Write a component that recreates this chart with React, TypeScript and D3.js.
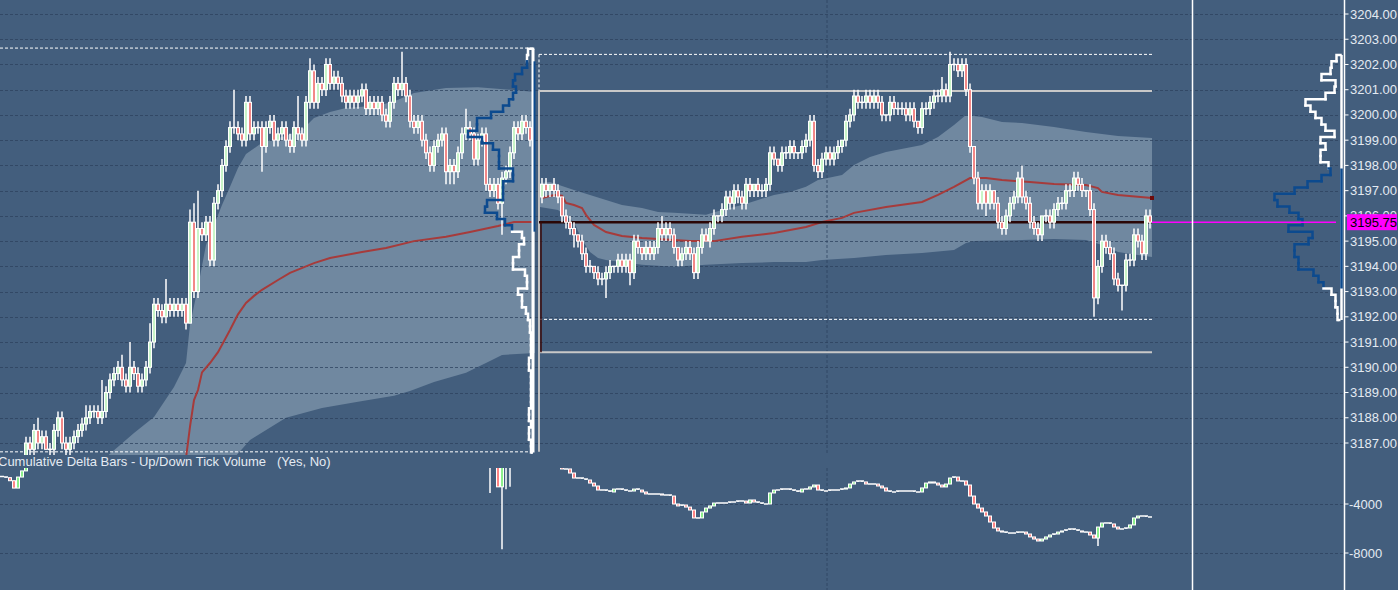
import React from "react";
import * as d3 from "d3";

// ---------------- DATA ----------------
const TICK = 0.25;
const RIGHT_OFFSET = 135; // bar index of first bar of the second session
const LAST_BAR = 287;

const priceTicks = [3187, 3188, 3189, 3190, 3191, 3192, 3193, 3194, 3195, 3196, 3197, 3198, 3199, 3200, 3201, 3202, 3203, 3204];
const deltaTicks = [-4000, -8000];

const leftOpen0 = 3186.25;
const leftCloses = [
  3186.0, 3186.25, 3186.0, 3185.75, 3186.0, 3186.25, 3187.0,
  3186.75, 3187.5, 3187.0, 3187.25, 3186.75, 3186.75, 3187.5,
  3188.0, 3187.0, 3186.75, 3187.0, 3187.25, 3187.5, 3187.75,
  3188.0, 3188.25, 3188.25, 3188.0, 3188.25, 3189.0, 3189.5,
  3189.75, 3190.0, 3189.5, 3189.25, 3190.0, 3189.75, 3189.25,
  3189.5, 3190.0, 3191.0, 3192.5, 3192.25, 3192.0, 3192.5,
  3192.25, 3192.5, 3192.25, 3192.5, 3191.75, 3195.75, 3193.0,
  3195.5, 3195.25, 3195.75, 3194.25, 3196.5, 3197.0, 3198.0,
  3198.75, 3199.5, 3199.5, 3199.25, 3199.0, 3200.5, 3199.25,
  3199.5, 3199.5, 3198.75, 3199.5, 3199.75, 3199.0, 3199.25,
  3199.5, 3199.0, 3198.75, 3199.5, 3199.25, 3199.0, 3200.5,
  3201.75, 3200.5, 3201.25, 3201.0, 3202.0, 3201.25, 3201.5,
  3201.25, 3200.75, 3200.5, 3200.75, 3200.5, 3200.75, 3201.0,
  3200.25, 3200.5, 3200.25, 3200.5, 3200.0, 3199.75, 3200.5,
  3201.25, 3201.0, 3201.25, 3200.75, 3199.75, 3199.5, 3199.75,
  3199.0, 3198.5, 3198.0, 3198.75, 3199.0, 3199.25, 3197.75,
  3198.0, 3197.75, 3198.5, 3199.25, 3199.5, 3199.25, 3198.25,
  3199.0, 3199.25, 3197.25, 3197.0, 3197.25, 3196.5, 3197.5,
  3197.75, 3198.5, 3199.5, 3199.25, 3199.75, 3199.5, 3199.0,
];
const leftWickUp = [
  0, 1, 0, 1, 0, 0, 1,
  1, 1, 2, 1, 1, 1, 1,
  1, 1, 1, 1, 1, 1, 1,
  2, 1, 1, 1, 5, 1, 1,
  1, 1, 2, 1, 4, 1, 1,
  1, 1, 3, 1, 1, 1, 4,
  1, 1, 1, 1, 1, 2, 3,
  6, 1, 1, 1, 1, 1, 1,
  1, 1, 6, 1, 1, 1, 1,
  1, 1, 1, 1, 1, 1, 1,
  1, 1, 1, 1, 5, 1, 1,
  2, 1, 1, 1, 1, 1, 1,
  1, 1, 1, 1, 1, 1, 1,
  1, 1, 1, 1, 1, 1, 1,
  1, 1, 5, 1, 1, 1, 1,
  1, 1, 1, 1, 1, 1, 1,
  1, 1, 1, 1, 3, 1, 1,
  1, 1, 1, 1, 1, 1, 1,
  1, 1, 1, 1, 1, 1, 1,
];
const leftWickDn = [
  1, 1, 1, 1, 1, 1, 1,
  1, 1, 1, 1, 0, 1, 1,
  1, 1, 1, 1, 1, 1, 1,
  1, 1, 1, 1, 1, 1, 1,
  1, 1, 1, 1, 1, 1, 1,
  1, 1, 1, 1, 1, 1, 1,
  1, 1, 1, 1, 1, 0, 1,
  1, 1, 1, 1, 1, 1, 1,
  1, 1, 1, 1, 1, 1, 1,
  1, 1, 4, 1, 1, 1, 1,
  1, 1, 1, 1, 1, 1, 1,
  1, 1, 1, 1, 1, 1, 1,
  1, 1, 1, 1, 1, 1, 1,
  1, 1, 1, 1, 1, 1, 1,
  1, 1, 1, 1, 1, 1, 1,
  1, 1, 1, 1, 1, 1, 2,
  2, 2, 1, 1, 1, 1, 1,
  1, 1, 1, 1, 1, 1, 5,
  1, 1, 1, 1, 1, 1, 1,
];

const rightOpen0 = 3196.75;
const rightCloses = [
  3197.25, 3197.0, 3197.25, 3197.0, 3196.75, 3196.0, 3195.75, 3195.5, 3195.25, 3195.0,
  3194.5, 3194.0, 3194.0, 3193.75, 3193.5, 3193.5, 3193.75, 3194.0, 3194.0, 3194.25,
  3194.0, 3194.25, 3193.75, 3195.0, 3194.75, 3194.5, 3194.75, 3194.5, 3194.75, 3195.5,
  3195.25, 3195.5, 3195.25, 3194.75, 3194.25, 3194.5, 3194.75, 3194.5, 3193.75, 3194.75,
  3195.25, 3195.0, 3195.5, 3196.0, 3196.0, 3196.25, 3196.75, 3196.5, 3197.0, 3196.75,
  3196.5, 3197.25, 3197.0, 3197.25, 3197.0, 3197.0, 3197.25, 3198.5, 3198.25, 3198.0,
  3198.5, 3198.5, 3198.75, 3198.5, 3198.5, 3198.75, 3199.0, 3199.75, 3198.0, 3197.75,
  3198.25, 3198.5, 3198.25, 3198.5, 3198.75, 3199.0, 3199.75, 3200.0, 3200.75, 3200.5,
  3200.5, 3200.75, 3200.5, 3200.75, 3200.5, 3200.0, 3200.0, 3200.5, 3200.25, 3200.25,
  3200.25, 3200.0, 3200.25, 3199.75, 3199.5, 3200.25, 3200.25, 3200.5, 3200.75, 3200.75,
  3201.0, 3200.75, 3202.0, 3202.0, 3201.75, 3202.0, 3201.0, 3198.75, 3197.5, 3196.5,
  3197.0, 3196.5, 3197.0, 3196.5, 3195.75, 3195.5, 3196.0, 3196.5, 3196.75, 3197.5,
  3196.75, 3196.5, 3195.75, 3195.5, 3195.25, 3196.0, 3196.0, 3195.75, 3196.25, 3196.5,
  3196.5, 3197.0, 3197.0, 3197.5, 3197.25, 3197.0, 3197.0, 3196.25, 3192.75, 3194.0,
  3195.0, 3194.75, 3194.5, 3193.5, 3193.25, 3193.25, 3194.25, 3194.25, 3195.25, 3195.0,
  3194.5, 3196.0, 3195.75,
];
const rightWickUp = [
  1, 1, 0, 1, 1, 0, 1, 1, 1, 0,
  1, 1, 1, 0, 1, 1, 1, 1, 0, 1,
  1, 1, 1, 1, 1, 0, 1, 1, 1, 1,
  2, 1, 1, 1, 0, 1, 1, 1, 1, 1,
  1, 1, 1, 1, 0, 1, 1, 1, 1, 1,
  1, 1, 1, 0, 1, 1, 1, 1, 1, 0,
  1, 1, 1, 1, 0, 1, 1, 1, 1, 1,
  1, 1, 1, 1, 1, 0, 1, 1, 1, 1,
  1, 1, 1, 1, 1, 1, 0, 1, 1, 1,
  1, 1, 1, 1, 0, 1, 1, 1, 1, 1,
  2, 1, 2, 1, 1, 1, 1, 1, 0, 1,
  1, 1, 1, 0, 1, 1, 1, 1, 1, 1,
  2, 1, 1, 1, 1, 0, 1, 1, 1, 1,
  1, 1, 1, 1, 1, 1, 0, 1, 1, 1,
  1, 1, 1, 1, 1, 0, 1, 1, 1, 1,
  1, 1, 1,
];
const rightWickDn = [
  1, 1, 1, 1, 1, 1, 1, 1, 2, 1,
  1, 1, 1, 1, 1, 1, 3, 1, 1, 1,
  1, 1, 2, 1, 1, 1, 1, 1, 1, 1,
  1, 1, 1, 1, 1, 1, 1, 1, 1, 1,
  1, 0, 1, 1, 1, 1, 1, 1, 1, 1,
  1, 1, 1, 1, 1, 1, 1, 1, 1, 1,
  1, 1, 1, 1, 1, 1, 1, 1, 1, 1,
  1, 1, 1, 1, 1, 1, 1, 1, 1, 1,
  1, 1, 1, 1, 1, 1, 1, 1, 1, 1,
  1, 1, 1, 1, 1, 1, 1, 1, 1, 1,
  1, 1, 1, 1, 1, 1, 1, 1, 1, 1,
  1, 2, 1, 1, 1, 1, 1, 1, 1, 1,
  1, 1, 1, 1, 1, 1, 1, 1, 1, 1,
  1, 1, 1, 1, 1, 1, 1, 1, 3, 1,
  1, 1, 1, 1, 1, 4, 1, 1, 1, 1,
  1, 1, 1,
];

// cumulative delta (close per bar, open = previous close)
const leftDeltaOpen0 = -1750;
const leftDelta = [
  -1800, -1850, -2100, -2700, -1800, -1300, -900,
  -700, -600, -750, -650, -700, -750, -500,
  -300, -600, -650, -550, -450, -350, -250,
  -100, 100, 150, 50, 200, 600, 900,
  1000, 1200, 900, 800, 1300, 1200, 900,
  1000, 1300, 1900, 2600, 2500, 2300, 2600,
  2500, 2600, 2500, 2700, 2200, 3800, 2900,
  3700, 3600, 3900, 3300, 4300, 4500, 4900,
  5200, 5500, 5500, 5400, 5300, 5900, 5400,
  5500, 5600, 5200, 5500, 5600, 5300, 5400,
  5500, 5300, 5200, 5500, 5400, 5300, 5900,
  6400, 5900, 6200, 6100, 6500, 6100, 6200,
  6100, 5900, 5800, 5900, 5800, 5900, 6000,
  5700, 5800, 5700, 5800, 5600, 5500, 5800,
  6100, 6000, 6100, 5800, 5300, 5000, 4900,
  4500, 4100, 3700, 3900, 4000, 4100, 3400,
  3300, 3100, 3400, 3700, 3800, 3600, 2900,
  3100, 3200, 1800, 1400, 1100, -2600, 900,
  1000, 1200, 2200, 2000, 2400, 2300, 2000,
];
const leftDeltaLows: [number, number][] = [[122, -3100], [125, -7700], [126, -2800], [127, -2600]];
const rightDeltaOpen0 = -700;
const rightDelta = [
  -800, -850, -900, -950, -1000, -1140, -1140, -1470, -1880, -1880,
  -1960, -2040, -2290, -2530, -2860, -2860, -2940, -3020, -2780, -2780,
  -2860, -2940, -2940, -2780, -2860, -3020, -3180, -3180, -3180, -3180,
  -3270, -3270, -3350, -4000, -4160, -4080, -4250, -4490, -5140, -5140,
  -4650, -4330, -4160, -3920, -3920, -3920, -3920, -3840, -3840, -3760,
  -3760, -3920, -3670, -3840, -3920, -4000, -4000, -3100, -2860, -2860,
  -2780, -2780, -2860, -2940, -3020, -2780, -2780, -2610, -2450, -2860,
  -2940, -2940, -2860, -2860, -2860, -2780, -2690, -2370, -2200, -2120,
  -2200, -2370, -2370, -2370, -2530, -2690, -2940, -3020, -3020, -2940,
  -2940, -2940, -2940, -3020, -3020, -2690, -2290, -2200, -2290, -2450,
  -2610, -2370, -1880, -1800, -2120, -2120, -2450, -3350, -4000, -4330,
  -4650, -4980, -5470, -5960, -6200, -6290, -6370, -6370, -6370, -6290,
  -6290, -6450, -6690, -6860, -7020, -6860, -6690, -6530, -6450, -6290,
  -6200, -6120, -6040, -6120, -6200, -6290, -6290, -6530, -6780, -5880,
  -5550, -5550, -5630, -5880, -6040, -6040, -5960, -5710, -5140, -4980,
  -4980, -5060, -5060,
];
const rightDeltaLows: [number, number][] = [[139, -7430]];

// VWAP and deviation band knots: [bar index within session, price]
const leftVwap: [number, number][] = [
  [46, 3186.4], [47, 3187.65], [48, 3188.7], [49, 3189.1], [50, 3189.8], [52, 3190.17], [54, 3190.6],
  [57, 3191.48], [59, 3192.1], [61, 3192.55], [63, 3192.83], [65, 3193.07], [69, 3193.46], [72, 3193.74],
  [78, 3194.13], [82, 3194.33], [90, 3194.57], [96, 3194.73], [103, 3195.0], [111, 3195.17],
  [117, 3195.36], [124, 3195.6], [128, 3195.76], [133, 3195.76],
];
const rightVwap: [number, number][] = [
  [0, 3196.71], [3, 3196.83], [5, 3196.8], [6, 3196.51], [8, 3196.43], [10, 3196.31], [11, 3196.04],
  [13, 3195.64], [16, 3195.36], [20, 3195.2], [25, 3195.12], [33, 3195.04], [37, 3195.0], [43, 3195.0],
  [50, 3195.17], [58, 3195.32], [66, 3195.56], [70, 3195.76], [75, 3195.92], [78, 3196.12], [86, 3196.35],
  [95, 3196.55], [99, 3196.83], [103, 3197.15], [107, 3197.5], [111, 3197.5], [115, 3197.42],
  [122, 3197.34], [128, 3197.26], [136, 3197.22], [139, 3197.1], [140, 3196.95], [144, 3196.83], [152.5, 3196.71],
];
const leftBandUpper: [number, number][] = [
  [25, 3186.3], [33, 3187.4], [38, 3188.03], [43, 3189.22], [46, 3190.17], [47, 3191.68], [49, 3193.18],
  [51, 3194.85], [53, 3195.64], [55, 3196.43], [57, 3197.15], [59, 3197.9], [61, 3198.45], [65, 3198.9],
  [70, 3199.13], [75, 3199.4], [78, 3199.88], [82, 3200.12], [86, 3200.28], [90, 3200.32], [95, 3200.4],
  [99, 3200.6], [103, 3200.87], [111, 3201.07], [119, 3201.1], [128, 3200.99], [133.25, 3200.91],
];
const leftBandLower: [number, number][] = [
  [25, 3185.0], [58, 3186.4], [62, 3187.12], [71, 3188.0], [80, 3188.39], [89, 3188.63], [98, 3188.87],
  [102, 3189.06], [108, 3189.42], [116, 3189.78], [122, 3190.25], [125, 3190.49], [133.25, 3190.57],
];
const rightBandUpper: [number, number][] = [
  [-0.5, 3197.3], [2, 3197.34], [8, 3197.03], [12, 3196.83], [16, 3196.63], [20, 3196.43], [25, 3196.31],
  [29, 3196.15], [33, 3196.12], [41, 3196.04], [45, 3196.23], [50, 3196.43], [54, 3196.63], [58, 3196.83],
  [62, 3196.95], [66, 3197.15], [69, 3197.42], [75, 3197.62], [78, 3198.02], [82, 3198.33], [86, 3198.53],
  [95, 3198.81], [99, 3199.13], [103, 3199.6], [106, 3200.0], [110, 3199.92], [115, 3199.72], [120, 3199.68],
  [128, 3199.52], [136, 3199.32], [144, 3199.17], [152.5, 3199.09],
];
const rightBandLower: [number, number][] = [
  [-0.5, 3196.35], [4, 3196.23], [8, 3195.76], [10, 3195.04], [12, 3194.57], [14, 3194.33], [16, 3194.25],
  [25, 3194.06], [33, 3193.98], [41, 3194.06], [50, 3194.13], [58, 3194.17], [66, 3194.17], [70, 3194.25],
  [78, 3194.33], [86, 3194.45], [95, 3194.53], [103, 3194.65], [106, 3194.93], [108, 3195.0], [120, 3195.04],
  [128, 3195.08], [136, 3195.04], [140, 3194.85], [144, 3194.57], [149, 3194.45], [152.5, 3194.37],
];

// session reference levels
const leftSessionHigh = 3202.65;
const leftSessionLow = 3186.65;
const rightRangeHigh = 3202.4;
const rightRangeLow = 3191.9;
const rightIBHigh = 3200.95;
const rightIBLow = 3190.6;
const timeGridBar = 206.25;

// volume profiles (top price, 0.25 steps down)
const leftProfileTop = 3202.5;
const leftProfileVol = [
  500, 600, 600, 1100, 1800, 2000, 1700, 2000, 2400, 3000,
  4200, 5600, 5600, 6500, 5100, 4000, 3400, 3400, 3400, 2000,
  2000, 3000, 3000, 3000, 4600, 4800, 3600, 2800, 2100, 1100,
  900, 1400, 1400, 2000, 2000, 800, 600, 600, 1500, 1100,
  1100, 700, 500, 300, 300, 200, 200, 200, 200, 400,
  400, 200, 200, 200, 200, 200, 200, 400, 400, 200,
  400, 400, 200, 200,
];
const leftVAHigh = 3202.0;
const leftVALow = 3195.5;
const rightProfileTop = 3202.25;
const rightProfileVol = [
  400, 900, 1000, 1900, 500, 600, 1500, 3500, 3000, 2500,
  1900, 1500, 600, 2000, 1500, 2000, 2000, 1200, 1000, 1900,
  3300, 4600, 6600, 6300, 5100, 4200, 3800, 5200, 2800, 3200,
  4600, 4600, 4200, 4200, 2700, 2200, 1700, 900, 500, 500,
  300, 300,
];
const rightVAHigh = 3197.75;
const rightVALow = 3193.25;

const deltaLabel = "Cumulative Delta Bars - Up/Down Tick Volume   (Yes, No)";

// ---------------- STYLE ----------------
const BG = "#435e7d";
const BAND = "#7088a0";
const GRID = "#2c425d";
const TXT = "#e4eaf2";
const UP = "#c8f5c8";
const DOWN = "#f28888";
const DUP = "#8cf08c";
const DDOWN = "#ff8585";
const BLUE = "#0c4a8e";
const FONT = "'Liberation Sans', Arial, sans-serif";

type Bar = { g: number; o: number; c: number; h: number; l: number };

export default function App() {
  const x = d3.scaleLinear().domain([0, LAST_BAR]).range([2, 1150]);
  const y = d3.scaleLinear().domain([3187, 3204]).range([443, 14]);
  const yd = d3.scaleLinear().domain([-4000, -8000]).range([504, 553]);
  const volX = d3.scaleLinear().domain([0, 6600]).range([0, 66]);

  const AXIS_X = 1344.5;
  const SEP_X = 1192.5;
  const PRICE_BOTTOM = 455;
  const DELTA_TOP = 468;

  const makeBars = (cl: number[], o0: number, up: number[], dn: number[], off: number): Bar[] =>
    cl.map((c, k) => {
      const o = k === 0 ? o0 : cl[k - 1];
      return { g: off + k, o, c, h: Math.max(o, c) + up[k] * TICK, l: Math.min(o, c) - dn[k] * TICK };
    });
  const priceBars = [
    ...makeBars(leftCloses, leftOpen0, leftWickUp, leftWickDn, 0),
    ...makeBars(rightCloses, rightOpen0, rightWickUp, rightWickDn, RIGHT_OFFSET),
  ];
  const makeDelta = (vals: number[], o0: number, lows: [number, number][], off: number): Bar[] => {
    const lm = new Map(lows);
    return vals.map((c, k) => {
      const o = k === 0 ? o0 : vals[k - 1];
      return { g: off + k, o, c, h: Math.max(o, c), l: lm.has(k) ? (lm.get(k) as number) : Math.min(o, c) };
    });
  };
  const deltaBars = [
    ...makeDelta(leftDelta, leftDeltaOpen0, leftDeltaLows, 0),
    ...makeDelta(rightDelta, rightDeltaOpen0, rightDeltaLows, RIGHT_OFFSET),
  ];

  const lastClose = rightCloses[rightCloses.length - 1];
  const yLast = y(lastClose);

  const leftStart = x(-0.5);
  const leftEnd = x(133.25);
  const rightStart = x(RIGHT_OFFSET - 0.75);
  const rightEnd = x(RIGHT_OFFSET + 152.5);

  const knotLine = (off: number) =>
    d3.line<[number, number]>().x((d) => x(d[0] + off)).y((d) => y(d[1]));
  const bandPath = (upper: [number, number][], lower: [number, number][], off: number) => {
    const pts = [...upper, ...lower.slice().reverse()];
    return knotLine(off)(pts) + "Z";
  };

  const candle = (b: Bar, ys: (v: number) => number, upC: string, dnC: string, key: string) => {
    const cx = x(b.g);
    const top = ys(Math.max(b.o, b.c));
    const bot = ys(Math.min(b.o, b.c));
    const fill = b.c > b.o ? upC : dnC;
    return (
      <g key={key}>
        <line x1={cx} x2={cx} y1={ys(b.h)} y2={ys(b.l)} stroke="#fff" strokeWidth={1.5} />
        {bot - top >= 1 ? (
          <rect x={cx - 1.5} y={top} width={3} height={bot - top} fill={fill} stroke="#fff" strokeWidth={1} />
        ) : (
          <line x1={cx - 2} x2={cx + 2} y1={top} y2={top} stroke="#fff" strokeWidth={1.5} />
        )}
      </g>
    );
  };

  const profile = (top: number, vols: number[], base: number, vaHi: number, vaLo: number, key: string) => {
    const segs: React.ReactNode[] = [];
    let prevX = base;
    let lastP = top;
    vols.forEach((v, k) => {
      const p = top - k * TICK;
      const xx = base - volX(v);
      const yt = y(p + TICK / 2);
      const yb = y(p - TICK / 2);
      const inVA = p <= vaHi + 1e-6 && p >= vaLo - 1e-6;
      segs.push(
        <path key={key + k} d={`M${prevX},${yt}H${xx}V${yb}`} fill="none"
          stroke={inVA ? BLUE : "#fff"} strokeWidth={2.5} strokeLinecap="square" />
      );
      prevX = xx;
      lastP = p;
    });
    segs.push(
      <path key={key + "end"} d={`M${prevX},${y(lastP - TICK / 2)}H${base}`} fill="none" stroke="#fff" strokeWidth={2.5} />
    );
    return segs;
  };

  const leftProfileBottom = leftProfileTop - (leftProfileVol.length - 1) * TICK;
  const rightProfileBottom = rightProfileTop - (rightProfileVol.length - 1) * TICK;
  const LP_BASE = x(132.75);
  const RP_BASE = 1341.5;

  const vEnd = rightVwap[rightVwap.length - 1];

  return (
    <svg width={1398} height={590} style={{ position: "fixed", left: 0, top: 0, display: "block" }}
      fontFamily={FONT}>
      <defs>
        <clipPath id="pclip"><rect x={0} y={0} width={AXIS_X} height={PRICE_BOTTOM} /></clipPath>
        <clipPath id="dclip"><rect x={0} y={DELTA_TOP} width={AXIS_X} height={590 - DELTA_TOP} /></clipPath>
      </defs>
      <rect x={0} y={0} width={1398} height={590} fill={BG} />

      <g clipPath="url(#pclip)">
        {/* deviation bands */}
        <path d={bandPath(leftBandUpper, leftBandLower, 0)} fill={BAND} />
        <path d={bandPath(rightBandUpper, rightBandLower, RIGHT_OFFSET)} fill={BAND} />

        {/* grid */}
        {priceTicks.map((p) => (
          <line key={"g" + p} x1={0} x2={AXIS_X} y1={Math.round(y(p)) + 0.5} y2={Math.round(y(p)) + 0.5}
            stroke={GRID} strokeOpacity={0.75} strokeDasharray="3,2" />
        ))}
        <line x1={x(timeGridBar)} x2={x(timeGridBar)} y1={0} y2={PRICE_BOTTOM} stroke={GRID} strokeOpacity={0.75} strokeDasharray="3,2" />

        {/* session references */}
        <line x1={leftStart} x2={leftEnd} y1={y(leftSessionHigh)} y2={y(leftSessionHigh)} stroke="#fff" strokeDasharray="3,2" />
        <line x1={leftStart} x2={leftEnd} y1={y(leftSessionLow)} y2={y(leftSessionLow)} stroke="#fff" strokeDasharray="3,2" />
        <line x1={rightStart} x2={rightEnd} y1={y(rightRangeHigh)} y2={y(rightRangeHigh)} stroke="#fff" strokeDasharray="3,2" />
        <line x1={rightStart} x2={rightEnd} y1={y(rightRangeLow)} y2={y(rightRangeLow)} stroke="#fff" strokeDasharray="3,2" />
        <line x1={rightStart} x2={rightStart} y1={y(rightRangeHigh)} y2={y(rightIBHigh)} stroke="#fff" strokeDasharray="3,2" />
        <line x1={rightStart} x2={rightEnd} y1={y(rightIBHigh)} y2={y(rightIBHigh)} stroke="#c8c8c8" strokeWidth={2} />
        <line x1={rightStart} x2={rightEnd} y1={y(rightIBLow)} y2={y(rightIBLow)} stroke="#c8c8c8" strokeWidth={2} />
        <line x1={rightStart} x2={rightStart} y1={y(rightIBHigh)} y2={y(leftSessionLow)} stroke="#c0c0c0" strokeWidth={2} />

        {/* VWAP */}
        <path d={knotLine(0)(leftVwap) || ""} fill="none" stroke="#a63b3b" strokeWidth={2} />
        <path d={knotLine(RIGHT_OFFSET)(rightVwap) || ""} fill="none" stroke="#a63b3b" strokeWidth={2} />
        <rect x={x(vEnd[0] + RIGHT_OFFSET) - 2} y={y(vEnd[1]) - 2} width={4} height={4} fill="#6e0b0b" />

        {/* last price line */}
        <line x1={rightStart} x2={rightEnd} y1={yLast} y2={yLast} stroke="#2a0606" strokeWidth={2.5} />
        <line x1={rightStart + 2} x2={rightStart + 2} y1={yLast} y2={y(rightIBLow)} stroke="#3a0a0a" strokeWidth={1.5} />

        {/* candles */}
        {priceBars.map((b, k) => candle(b, y, UP, DOWN, "c" + k))}

        {/* volume profiles */}
        <line x1={LP_BASE} x2={LP_BASE} y1={y(leftProfileTop + TICK / 2)} y2={y(leftProfileBottom - TICK / 2)} stroke="#fff" strokeWidth={3} />
        <line x1={LP_BASE + 1.5} x2={LP_BASE + 1.5} y1={y(leftVAHigh + TICK / 2)} y2={y(leftVALow - TICK / 2)} stroke={BLUE} strokeWidth={2} />
        {profile(leftProfileTop, leftProfileVol, LP_BASE, leftVAHigh, leftVALow, "lp")}
        <line x1={RP_BASE} x2={RP_BASE} y1={y(rightProfileTop + TICK / 2)} y2={y(rightProfileBottom - TICK / 2)} stroke="#fff" strokeWidth={2.5} />
        <line x1={RP_BASE} x2={RP_BASE} y1={y(rightVAHigh + TICK / 2)} y2={y(rightVALow - TICK / 2)} stroke={BLUE} strokeWidth={2.5} />
        {profile(rightProfileTop, rightProfileVol, RP_BASE - 1, rightVAHigh, rightVALow, "rp")}

        {/* current price extension */}
        <line x1={rightEnd} x2={1336} y1={yLast} y2={yLast} stroke="#ff00ff" strokeWidth={1.5} />
      </g>

      {/* delta panel */}
      <g clipPath="url(#dclip)">
        {deltaTicks.map((v) => (
          <line key={"dg" + v} x1={0} x2={AXIS_X} y1={Math.round(yd(v)) + 0.5} y2={Math.round(yd(v)) + 0.5}
            stroke={GRID} strokeOpacity={0.75} strokeDasharray="3,2" />
        ))}
        <line x1={x(timeGridBar)} x2={x(timeGridBar)} y1={DELTA_TOP} y2={590} stroke={GRID} strokeOpacity={0.75} strokeDasharray="3,2" />
        {deltaBars.map((b, k) => candle(b, yd, DUP, DDOWN, "d" + k))}
      </g>
      <text x={-2} y={466} fontSize={13} fill={TXT} style={{ whiteSpace: "pre" }}>{deltaLabel}</text>

      {/* separators and axis */}
      <line x1={SEP_X} x2={SEP_X} y1={0} y2={590} stroke="#fff" strokeWidth={1.5} />
      <line x1={AXIS_X} x2={AXIS_X} y1={0} y2={590} stroke="#fff" strokeWidth={1.5} />
      {priceTicks.map((p) => (
        <g key={"t" + p}>
          <line x1={AXIS_X} x2={AXIS_X + 4} y1={y(p)} y2={y(p)} stroke="#fff" />
          <text x={1350} y={y(p)} dy="0.35em" fontSize={13} fill={TXT}>{p.toFixed(2)}</text>
        </g>
      ))}
      {deltaTicks.map((v) => (
        <g key={"dt" + v}>
          <line x1={AXIS_X} x2={AXIS_X + 4} y1={yd(v)} y2={yd(v)} stroke="#fff" />
          <text x={1349} y={yd(v)} dy="0.35em" fontSize={13} fill={TXT}>{String(v)}</text>
        </g>
      ))}
      <rect x={1347} y={yLast - 8} width={50} height={16} fill="#ff00ff" />
      <text x={1350} y={yLast} dy="0.36em" fontSize={13} fill="#000">{lastClose.toFixed(2)}</text>
    </svg>
  );
}
